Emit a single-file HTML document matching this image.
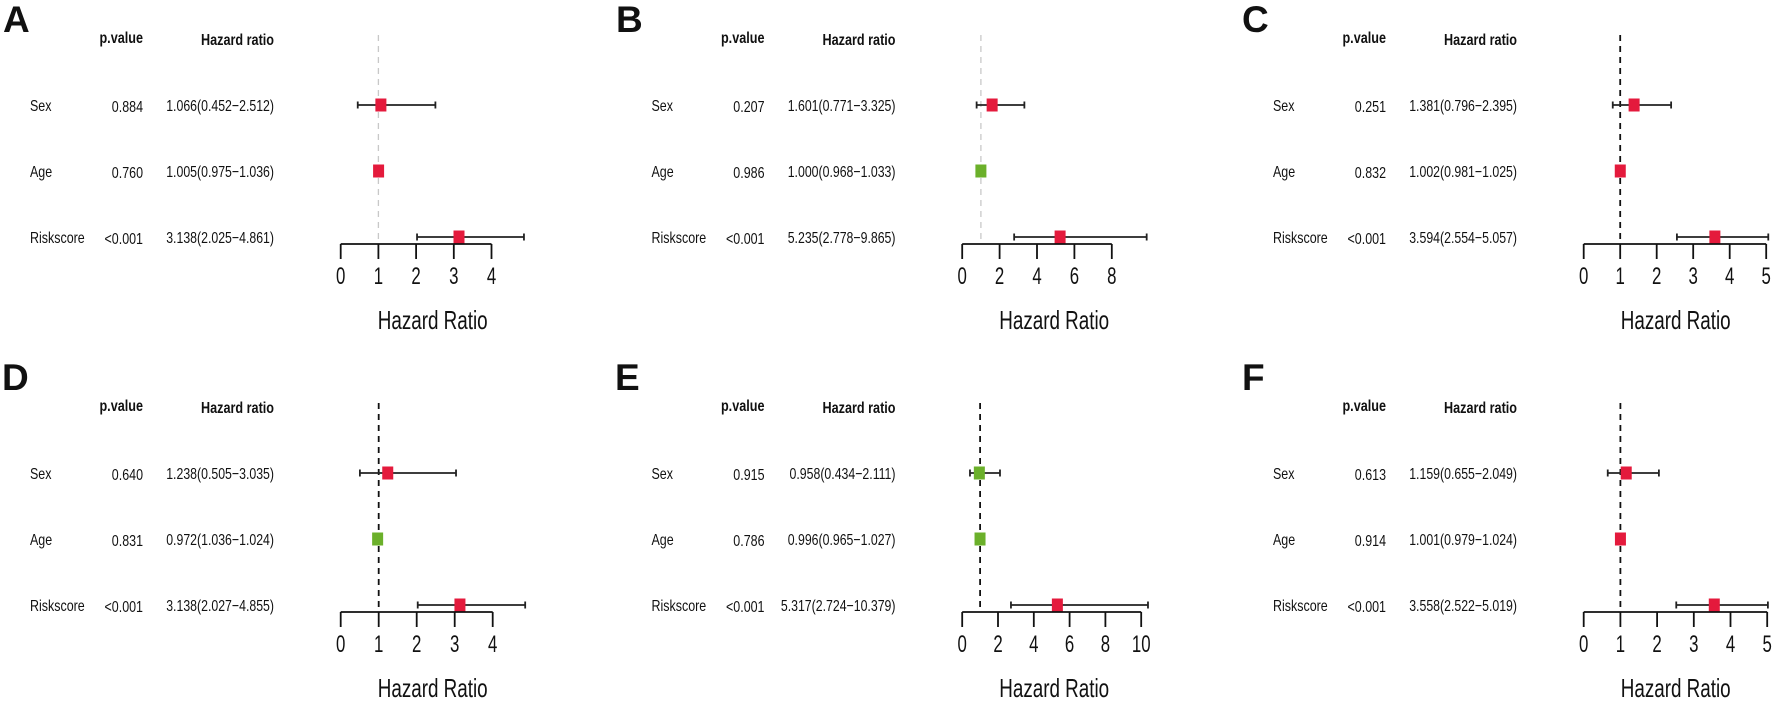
<!DOCTYPE html>
<html><head><meta charset="utf-8">
<style>
html,body{margin:0;padding:0;background:#fff;}
svg{display:block;font-family:"Liberation Sans",Arial,sans-serif;}
</style></head>
<body>
<svg id="fig" width="1772" height="701" viewBox="0 0 1772 701" xmlns="http://www.w3.org/2000/svg"></svg>
<script>
// ---- data ----
const panelLetters = ["A","B","C","D","E","F"];
const variables = ["Sex","Age","Riskscore"];
const pValues = [
  ["0.884","0.760","<0.001"],
  ["0.207","0.986","<0.001"],
  ["0.251","0.832","<0.001"],
  ["0.640","0.831","<0.001"],
  ["0.915","0.786","<0.001"],
  ["0.613","0.914","<0.001"]
];
const hrValues = [
  [1.066,1.005,3.138],
  [1.601,1.000,5.235],
  [1.381,1.002,3.594],
  [1.238,0.972,3.138],
  [0.958,0.996,5.317],
  [1.159,1.001,3.558]
];
const ciLow = [
  [0.452,0.975,2.025],
  [0.771,0.968,2.778],
  [0.796,0.981,2.554],
  [0.505,1.036,2.027],
  [0.434,0.965,2.724],
  [0.655,0.979,2.522]
];
const ciHigh = [
  [2.512,1.036,4.861],
  [3.325,1.033,9.865],
  [2.395,1.025,5.057],
  [3.035,1.024,4.855],
  [2.111,1.027,10.379],
  [2.049,1.024,5.019]
];
const hrLabels = [
  ["1.066(0.452\u22122.512)","1.005(0.975\u22121.036)","3.138(2.025\u22124.861)"],
  ["1.601(0.771\u22123.325)","1.000(0.968\u22121.033)","5.235(2.778\u22129.865)"],
  ["1.381(0.796\u22122.395)","1.002(0.981\u22121.025)","3.594(2.554\u22125.057)"],
  ["1.238(0.505\u22123.035)","0.972(1.036\u22121.024)","3.138(2.027\u22124.855)"],
  ["0.958(0.434\u22122.111)","0.996(0.965\u22121.027)","5.317(2.724\u221210.379)"],
  ["1.159(0.655\u22122.049)","1.001(0.979\u22121.024)","3.558(2.522\u22125.019)"]
];
const markerColors = [
  ["r","r","r"],["r","g","r"],["r","r","r"],
  ["r","g","r"],["g","g","r"],["r","r","r"]
];
const tickLabels = [
  [0,1,2,3,4],[0,2,4,6,8],[0,1,2,3,4,5],
  [0,1,2,3,4],[0,2,4,6,8,10],[0,1,2,3,4,5]
];
const refStyle = ["gray","gray","dash","dash","dash","dash"];

// ---- layout ----
const NS="http://www.w3.org/2000/svg";
const svg=document.getElementById('fig');
const colOffset=[0,621.5,1243,0,621.5,1243];
const rowOffset=[0,0,0,368,368,368];
const letterBase=[32,32,32,390,390,390];
const pxPerUnit=[37.7,18.7,36.5,38,17.9,36.7];
const letterX=[3,616,1242,2,615,1242];
const COLORS={r:"#e41a3c",g:"#6bb02a"};

function el(tag,attrs,parent){
  const e=document.createElementNS(NS,tag);
  for(const k in attrs) e.setAttribute(k,attrs[k]);
  (parent||svg).appendChild(e);
  return e;
}
function txt(g,x,y,s,anchor,size,weight,sx){
  const t=el('text',{transform:`translate(${x},${y}) scale(${sx},1)`,'text-anchor':anchor,'font-size':size,'font-weight':weight,fill:'#111'},g);
  t.textContent=s;
  return t;
}

for(let p=0;p<6;p++){
  const ox=colOffset[p], oy=rowOffset[p];
  const g=el('g',{});
  
  
  const x0=340.7+ox, u=pxPerUnit[p];
  const xs=v=>x0+v*u;
  const rowY=[105+oy,171+oy,237+oy];
  const axisY=244+oy;

  const L=txt(g,letterX[p],letterBase[p],panelLetters[p],'start',37,'bold',1);
  
  

  const h1=txt(g,143+ox,43+oy,'p.value','end',16,'bold',0.79);
  
  
  const h2=txt(g,274+ox,45+oy,'Hazard ratio','end',16,'bold',0.79);
  
  

  const ref=el('line',{x1:xs(1),x2:xs(1),y1:35+oy,y2:axisY,stroke:refStyle[p]==='gray'?'#c8c8c8':'#111','stroke-width':refStyle[p]==='gray'?1.3:1.8,'stroke-dasharray':'6,5'},g);
  
  

  for(let r=0;r<3;r++){
    const y=rowY[r];
    const a=txt(g,30+ox,y+6,variables[r],'start',16,'normal',0.78);
    
    
    const b=txt(g,143+ox,y+7,pValues[p][r],'end',16,'normal',0.78);
    
    
    const c=txt(g,274+ox,y+6,hrLabels[p][r],'end',16,'normal',0.77);
    
    

    const lo=Math.min(ciLow[p][r],ciHigh[p][r]), hi=Math.max(ciLow[p][r],ciHigh[p][r]);
    const ci=el('line',{x1:xs(lo),x2:xs(hi),y1:y,y2:y,stroke:'#222','stroke-width':1.8},g);
    
    
    for(const v of [lo,hi]){
      const w=el('line',{x1:xs(v),x2:xs(v),y1:y-3.5,y2:y+3.5,stroke:'#222','stroke-width':1.8},g);
      
      
    }
    const sq=el('rect',{x:xs(hrValues[p][r])-5.5,y:y-6.5,width:11,height:13,fill:COLORS[markerColors[p][r]]},g);
    
    
  }

  const ticks=tickLabels[p];
  const ax=el('line',{x1:xs(ticks[0]),x2:xs(ticks[ticks.length-1]),y1:axisY,y2:axisY,stroke:'#111','stroke-width':1.8},g);
  
  
  for(const t of ticks){
    const tk=el('line',{x1:xs(t),x2:xs(t),y1:axisY,y2:axisY+15,stroke:'#111','stroke-width':1.8},g);
    
    
    const tl=txt(g,xs(t),axisY+40,String(t),'middle',24,'normal',0.7);
    
    
  }
  const xt=txt(g,x0+92,329+oy,'Hazard Ratio','middle',26,'normal',0.725);
  
  
}
</script>
</body></html>
